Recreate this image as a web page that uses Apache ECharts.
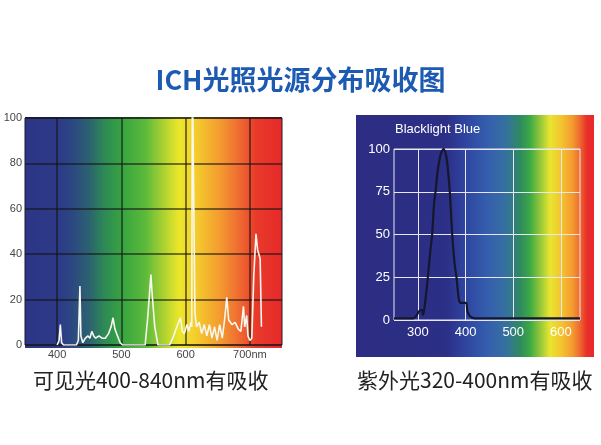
<!DOCTYPE html>
<html>
<head>
<meta charset="utf-8">
<script src="https://cdn.jsdelivr.net/npm/echarts@6/dist/echarts.min.js"></script>
<style>
  html, body { margin: 0; padding: 0; background: #fff; }
  #chart { width: 601px; height: 445px; }
</style>
</head>
<body>
<div id="chart"></div>
<script>
// 可见光 光谱 (nm, 相对强度)
var visWavelength = [400, 403, 405, 407, 410, 430, 433, 435.5, 437, 440, 444, 448, 451, 454, 457, 460, 465, 470, 475, 480, 484, 487, 490, 494, 498, 502,
  537, 541, 546, 548, 552, 557, 575, 580, 585, 589, 592, 595, 598, 602, 605, 608, 609.5, 610.5, 613.5, 614.5, 617,
  621, 625, 629, 633, 637, 641, 645, 649, 653, 657, 661, 664, 667, 672, 677, 682, 686, 690, 692, 695, 697, 700, 703, 706, 709.5, 712, 716, 718];
var visValue = [0, 2, 9, 1, 0, 0, 2, 26, 4, 1, 3, 4, 3, 6, 4, 3, 4, 3, 3, 5, 8, 12, 7, 4, 1, 0,
  0, 12, 31, 22, 8, 0, 0, 3, 7, 10, 12, 6, 5, 9, 6, 10, 8, 120, 120, 14, 8,
  10, 5, 9, 4, 9, 3, 8, 2, 9, 3, 12, 21, 11, 9, 10, 7, 6, 17, 8, 13, 4, 2, 3, 30, 49, 42, 38, 8];
// 紫外光 Blacklight Blue
var uvWavelength = [250, 290, 298, 302, 308, 311, 316, 321, 326, 330, 334, 337, 342, 348, 354, 360, 364, 367, 372, 377, 381, 386, 390, 401, 404, 410, 420, 640];
var uvValue = [1, 1, 3, 5, 6, 3, 12, 25, 40, 50, 68, 75, 88, 97, 100, 95, 85, 75, 50, 33, 25, 12, 10, 10, 5, 2, 1, 1];

var visTicks = [400, 500, 600, 700];
var uvTicks = [300, 400, 500, 600];

var titleText = 'ICH光照光源分布吸收图';
var visCaption = '可见光400-840nm有吸收';
var uvCaption = '紫外光320-400nm有吸收';

function pairs(xs, ys) {
  return xs.map(function (x, i) { return [x, ys[i]]; });
}

var chart = echarts.init(document.getElementById('chart'));

var visGrad = new echarts.graphic.LinearGradient(0, 0, 1, 0, [
  { offset: 0, color: '#2d3586' },
  { offset: 0.13, color: '#2d3a88' },
  { offset: 0.18, color: '#2c4682' },
  { offset: 0.25, color: '#2c6270' },
  { offset: 0.31, color: '#2d8a55' },
  { offset: 0.38, color: '#38a540' },
  { offset: 0.47, color: '#5dba3b' },
  { offset: 0.55, color: '#b8d530' },
  { offset: 0.6, color: '#ece72a' },
  { offset: 0.66, color: '#f4cf2c' },
  { offset: 0.76, color: '#f39a30' },
  { offset: 0.85, color: '#ee6030' },
  { offset: 0.9, color: '#e83a2a' },
  { offset: 1, color: '#e6292a' }
]);

var uvGrad = new echarts.graphic.LinearGradient(0, 0, 1, 0, [
  { offset: 0, color: '#2c2d82' },
  { offset: 0.38, color: '#2c2f86' },
  { offset: 0.46, color: '#2f45a0' },
  { offset: 0.56, color: '#3560ae' },
  { offset: 0.63, color: '#3670a0' },
  { offset: 0.69, color: '#2f8a60' },
  { offset: 0.73, color: '#3aa845' },
  { offset: 0.77, color: '#8cc43a' },
  { offset: 0.815, color: '#e8e530' },
  { offset: 0.865, color: '#f4c22e' },
  { offset: 0.91, color: '#f39a30' },
  { offset: 0.94, color: '#ef6a2e' },
  { offset: 0.97, color: '#e8302a' },
  { offset: 1, color: '#e8282a' }
]);

var cjkFont = '"Noto Sans CJK SC", "Noto Sans", sans-serif';
var latFont = '"Liberation Sans", Arial, sans-serif';

var option = {
  animation: false,
  backgroundColor: '#fff',
  title: [{
    text: titleText,
    left: 'center',
    top: 61,
    textStyle: { fontFamily: cjkFont, fontSize: 27, fontWeight: 'bold', color: '#1d5bb3' }
  }],
  graphic: [
    { type: 'rect', z: -1, shape: { x: 25, y: 117, width: 257, height: 231 }, style: { fill: visGrad } },
    { type: 'rect', z: -1, shape: { x: 356, y: 115, width: 238, height: 242 }, style: { fill: uvGrad } },
    { type: 'text', left: 395, top: 123, style: { text: 'Blacklight Blue', fill: '#fff', font: '13px ' + latFont } },
    { type: 'text', left: 33, top: 370, style: { text: visCaption, fill: '#222', font: '21px ' + cjkFont } },
    { type: 'text', left: 357, top: 370, style: { text: uvCaption, fill: '#222', font: '21px ' + cjkFont } }
  ],
  grid: [
    { left: 25, top: 118, width: 257, height: 227, show: true, borderColor: '#1c1c2c', borderWidth: 1, backgroundColor: 'transparent' },
    { left: 394, top: 149, width: 186, height: 171, show: true, borderColor: '#e8e8f4', borderWidth: 1, backgroundColor: 'transparent' }
  ],
  xAxis: [{
    gridIndex: 0, type: 'value', min: 350, max: 750,
    axisLine: { show: false }, axisTick: { show: false, customValues: visTicks },
    axisLabel: {
      customValues: visTicks, margin: 4, fontSize: 11, color: '#444', fontFamily: latFont,
      formatter: function (v) { return v === 700 ? '700nm' : String(v); }
    },
    splitLine: { show: true, lineStyle: { color: 'rgba(20,20,20,0.75)', width: 1.5 } }
  }, {
    gridIndex: 1, type: 'value', min: 250, max: 640,
    axisLine: { show: false }, axisTick: { show: false, customValues: uvTicks },
    axisLabel: { customValues: uvTicks, margin: 6, fontSize: 13, color: '#fff', fontFamily: latFont },
    splitLine: { show: true, lineStyle: { color: '#e8e8f4', width: 1 } }
  }],
  yAxis: [{
    gridIndex: 0, type: 'value', min: 0, max: 100, interval: 20,
    axisLine: { show: false }, axisTick: { show: false },
    axisLabel: { margin: 3, fontSize: 11, color: '#444', fontFamily: latFont },
    splitLine: { show: true, lineStyle: { color: 'rgba(20,20,20,0.75)', width: 1.5 } }
  }, {
    gridIndex: 1, type: 'value', min: 0, max: 100, interval: 25,
    axisLine: { show: false }, axisTick: { show: false },
    axisLabel: { margin: 4, fontSize: 13, color: '#fff', fontFamily: latFont },
    splitLine: { show: true, lineStyle: { color: '#e8e8f4', width: 1 } }
  }],
  series: [{
    type: 'line', xAxisIndex: 0, yAxisIndex: 0,
    data: pairs(visWavelength, visValue),
    showSymbol: false, clip: true,
    lineStyle: { color: '#f7f7f0', width: 1.6 }
  }, {
    type: 'line', xAxisIndex: 1, yAxisIndex: 1,
    data: pairs(uvWavelength, uvValue),
    showSymbol: false, smooth: 0.3, clip: true,
    lineStyle: { color: '#15172e', width: 2.2 }
  }]
};

chart.setOption(option);
window.addEventListener('resize', function () { chart.resize(); });
</script>
</body>
</html>
